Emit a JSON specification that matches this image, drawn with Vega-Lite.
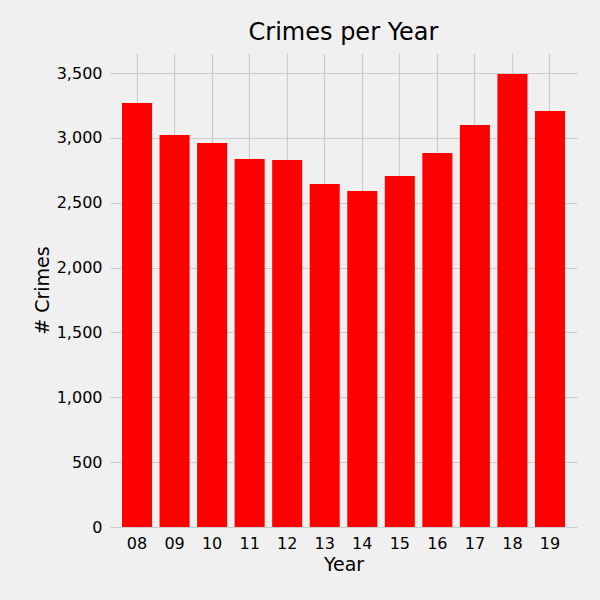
{
  "$schema": "https://vega.github.io/schema/vega-lite/v6.json",
  "width": 467,
  "height": 474,
  "autosize": "none",
  "padding": {"left": 110, "top": 53, "right": 23, "bottom": 73},
  "background": "#f0f0f0",
  "title": {"text": "Crimes per Year", "fontSize": 24, "font": "DejaVu Sans", "fontWeight": "normal", "color": "#000000", "offset": 8},
  "data": {
    "values": [
      {"year": "08", "crimes": 3269},
      {"year": "09", "crimes": 3022},
      {"year": "10", "crimes": 2961},
      {"year": "11", "crimes": 2837},
      {"year": "12", "crimes": 2830},
      {"year": "13", "crimes": 2645},
      {"year": "14", "crimes": 2591},
      {"year": "15", "crimes": 2706},
      {"year": "16", "crimes": 2884},
      {"year": "17", "crimes": 3100},
      {"year": "18", "crimes": 3493},
      {"year": "19", "crimes": 3208}
    ]
  },
  "mark": {"type": "bar", "color": "#ff0000"},
  "encoding": {
    "x": {
      "field": "year", "type": "ordinal", "title": "Year",
      "scale": {"paddingInner": 0.2, "paddingOuter": 0.32},
      "axis": {"labelAngle": 0, "grid": true, "bandPosition": 0.5}
    },
    "y": {
      "field": "crimes", "type": "quantitative", "title": "# Crimes",
      "scale": {"domain": [0, 3655], "nice": false},
      "axis": {"values": [0, 500, 1000, 1500, 2000, 2500, 3000, 3500]}
    }
  },
  "config": {
    "view": {"stroke": null},
    "axis": {
      "domain": false, "ticks": false,
      "gridColor": "#cbcbcb", "gridWidth": 1.2,
      "labelFont": "DejaVu Sans", "labelFontSize": 16, "labelColor": "#000000", "labelPadding": 8,
      "titleFont": "DejaVu Sans", "titleFontSize": 19, "titleFontWeight": "normal", "titleColor": "#000000"
    }
  }
}
